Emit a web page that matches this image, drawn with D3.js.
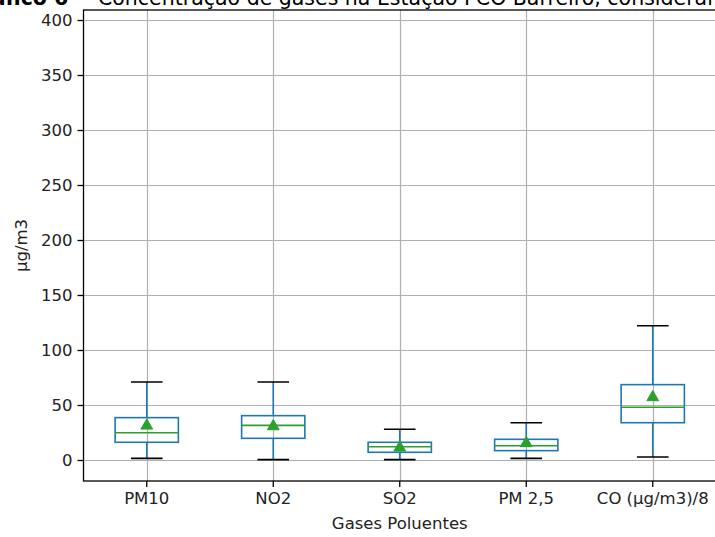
<!DOCTYPE html>
<html>
<head>
<meta charset="utf-8">
<script src="https://cdn.jsdelivr.net/npm/d3@7/dist/d3.min.js"></script>
<style>
  html, body { margin: 0; padding: 0; background: #fff; }
  svg { display: block; font-family: "DejaVu Sans", sans-serif; }
</style>
</head>
<body>
<svg id="chart" width="715" height="537"></svg>
<script>
const categories = ["PM10", "NO2", "SO2", "PM 2,5", "CO (µg/m3)/8"];
const whiskerLow  = [1.5, 0.3, 0.3, 1.5, 2.7];
const q1          = [16.1, 19.7, 7.0, 8.5, 33.9];
const median      = [24.8, 31.5, 12.1, 13.0, 47.9];
const q3          = [38.5, 40.3, 16.1, 18.8, 68.5];
const whiskerHigh = [70.9, 70.9, 27.9, 33.9, 122.1];
const mean        = [31.2, 30.6, 11.2, 15.2, 57.0];
const yTicks = [0, 50, 100, 150, 200, 250, 300, 350, 400];
const yDomain = [-19.1, 409.1];
const titleBold = "Gráfico 6 -";
const titleText = "Concentração de gases na Estação FCO Barreiro, considerando";
const xLabel = "Gases Poluentes";
const yLabel = "µg/m3";

const svg = d3.select("#chart");
const m = { left: 83.5, right: 716, top: 10, bottom: 481 };

const x = d3.scaleBand().domain(categories).range([m.left, m.right]).paddingInner(0).paddingOuter(0);
const y = d3.scaleLinear().domain(yDomain).range([m.bottom, m.top]);
const cx = c => x(c) + x.bandwidth() / 2;
const boxW = x.bandwidth() * 0.5;
const capW = x.bandwidth() * 0.25;

// grid
const grid = svg.append("g").attr("stroke", "#b0b0b0").attr("stroke-width", 1.2);
yTicks.forEach(t => grid.append("line")
  .attr("x1", m.left).attr("x2", m.right)
  .attr("y1", Math.round(y(t)) + 0.5).attr("y2", Math.round(y(t)) + 0.5));
categories.forEach(c => grid.append("line")
  .attr("y1", m.top).attr("y2", m.bottom)
  .attr("x1", Math.round(cx(c)) + 0.5).attr("x2", Math.round(cx(c)) + 0.5));

// boxes
const data = categories.map((c, i) => ({
  c, lo: whiskerLow[i], q1: q1[i], med: median[i], q3: q3[i], hi: whiskerHigh[i], mean: mean[i]
}));
const g = svg.append("g").selectAll("g").data(data).join("g");
const blue = "#1f77b4", green = "#2ca02c";
// whiskers
g.append("line").attr("x1", d => cx(d.c)).attr("x2", d => cx(d.c))
  .attr("y1", d => y(d.q3)).attr("y2", d => y(d.hi)).attr("stroke", blue).attr("stroke-width", 1.6);
g.append("line").attr("x1", d => cx(d.c)).attr("x2", d => cx(d.c))
  .attr("y1", d => y(d.q1)).attr("y2", d => y(d.lo)).attr("stroke", blue).attr("stroke-width", 1.6);
// caps
g.append("line").attr("x1", d => cx(d.c) - capW / 2).attr("x2", d => cx(d.c) + capW / 2)
  .attr("y1", d => y(d.hi)).attr("y2", d => y(d.hi)).attr("stroke", "#000").attr("stroke-width", 1.6);
g.append("line").attr("x1", d => cx(d.c) - capW / 2).attr("x2", d => cx(d.c) + capW / 2)
  .attr("y1", d => y(d.lo)).attr("y2", d => y(d.lo)).attr("stroke", "#000").attr("stroke-width", 1.6);
// box
g.append("rect").attr("x", d => cx(d.c) - boxW / 2).attr("width", boxW)
  .attr("y", d => y(d.q3)).attr("height", d => y(d.q1) - y(d.q3))
  .attr("fill", "none").attr("stroke", blue).attr("stroke-width", 1.6);
// median
g.append("line").attr("x1", d => cx(d.c) - boxW / 2).attr("x2", d => cx(d.c) + boxW / 2)
  .attr("y1", d => y(d.med)).attr("y2", d => y(d.med)).attr("stroke", green).attr("stroke-width", 1.6);
// mean marker
const tri = d3.symbol().type(d3.symbolTriangle).size(60);
g.append("path").attr("d", tri)
  .attr("transform", d => `translate(${cx(d.c)},${y(d.mean)})`)
  .attr("fill", green).attr("stroke", green).attr("stroke-width", 1);

// axes
const yAxis = d3.axisLeft(y).tickValues(yTicks).tickSize(6).tickPadding(5).tickFormat(d3.format("d"));
const ya = svg.append("g").attr("transform", `translate(${m.left},0)`).call(yAxis);
const xAxis = d3.axisBottom(x).tickSize(6).tickPadding(5);
const xa = svg.append("g").attr("transform", `translate(0,${m.bottom})`).call(xAxis);
[ya, xa].forEach(a => {
  a.select(".domain").remove();
  a.selectAll("line").attr("stroke", "#000").attr("stroke-width", 1.3);
  a.selectAll("text").attr("font-size", "16.5px").attr("fill", "#222").attr("font-family", "DejaVu Sans");
});

// spines
svg.append("rect").attr("x", m.left).attr("y", m.top)
  .attr("width", m.right - m.left).attr("height", m.bottom - m.top)
  .attr("fill", "none").attr("stroke", "#000").attr("stroke-width", 1.3);

// labels
svg.append("text").attr("x", (m.left + m.right) / 2).attr("y", 529)
  .attr("text-anchor", "middle").attr("font-size", "16.5px").attr("fill", "#222").text(xLabel);
svg.append("text").attr("transform", `translate(27,${(m.top + m.bottom) / 2}) rotate(-90)`)
  .attr("text-anchor", "middle").attr("font-size", "16.5px").attr("fill", "#222").text(yLabel);

// title (cropped at top)
svg.append("text").attr("x", 84).attr("y", 4.5).attr("text-anchor", "end")
  .attr("font-size", "20.5px").attr("font-weight", "bold").attr("fill", "#000").text(titleBold);
svg.append("text").attr("x", 98).attr("y", 4.5)
  .attr("font-size", "20.5px").attr("fill", "#000").text(titleText);
</script>
</body>
</html>
